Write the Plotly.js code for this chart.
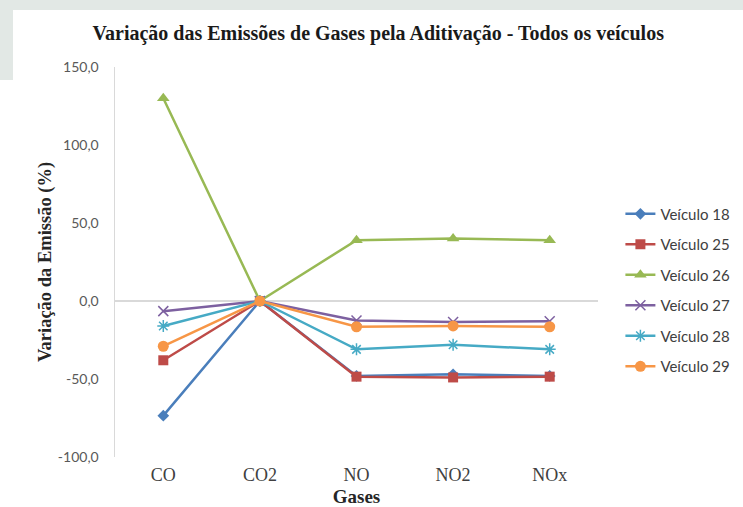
<!DOCTYPE html>
<html>
<head>
<meta charset="utf-8">
<script src="https://cdn.plot.ly/plotly-3.0.1.min.js"></script>
<style>
  html, body { margin: 0; padding: 0; width: 743px; height: 507px; overflow: hidden; background: #e2e8e5; }
  #panel { position: absolute; left: 13px; top: 10px; width: 730px; height: 497px; background: #ffffff; }
  #panel2 { position: absolute; left: 0px; top: 80px; width: 13px; height: 427px; background: #ffffff; }
  #chart { position: absolute; left: 0; top: 0; width: 743px; height: 507px; }
</style>
</head>
<body>
<div id="panel"></div>
<div id="panel2"></div>
<div id="chart"></div>
<script>
const categories = ["CO", "CO2", "NO", "NO2", "NOx"];
const seriesNames = ["Veículo 18", "Veículo 25", "Veículo 26", "Veículo 27", "Veículo 28", "Veículo 29"];
const veiculo18 = [-73.5, 0.0, -48.0, -47.0, -48.0];
const veiculo25 = [-38.0, 0.0, -48.5, -49.0, -48.5];
const veiculo26 = [130.0, 0.0, 39.0, 40.0, 39.0];
const veiculo27 = [-6.5, 0.0, -12.5, -13.5, -13.0];
const veiculo28 = [-16.0, 0.0, -31.0, -28.0, -31.0];
const veiculo29 = [-29.0, 0.0, -16.5, -16.0, -16.5];
const yTickVals = [-100, -50, 0, 50, 100, 150];
const yTickText = ["-100,0", "-50,0", "0,0", "50,0", "100,0", "150,0"];

const seriesValues = [veiculo18, veiculo25, veiculo26, veiculo27, veiculo28, veiculo29];
const colors = ["#4a7ebb", "#be4b48", "#98b954", "#7d60a0", "#46aac5", "#f79646"];
const symbols = ["diamond", "square", "triangle-up", "x-thin-open", "asterisk-open", "circle"];
const sizes = [9, 10, 11, 10, 10, 11];

const traces = seriesValues.map((vals, i) => {
  const lineSym = symbols[i].endsWith("-open");
  return {
    type: "scatter",
    mode: "lines+markers",
    name: seriesNames[i],
    legendgroup: "g" + i,
    x: categories,
    y: vals,
    line: { color: colors[i], width: 2.5 },
    marker: {
      symbol: symbols[i],
      size: sizes[i],
      color: colors[i],
      line: lineSym ? { color: colors[i], width: 1.5 } : { width: 0 }
    }
  };
});

const layout = {
  width: 743,
  height: 507,
  paper_bgcolor: "rgba(0,0,0,0)",
  plot_bgcolor: "rgba(0,0,0,0)",
  margin: { l: 115, r: 145, t: 67, b: 50, autoexpand: false },
  showlegend: true,
  title: {
    text: "<b>Variação das Emissões de Gases pela Aditivação - Todos os veículos</b>",
    font: { family: "Liberation Serif, Times New Roman, serif", size: 20, color: "#1a1a1a" },
    x: 0.509, xanchor: "center",
    y: 0.935, yanchor: "middle"
  },
  xaxis: {
    type: "category",
    range: [-0.5, 4.5],
    showgrid: false,
    zeroline: false,
    showline: false,
    ticks: "",
    ticklabelstandoff: 5,
    tickfont: { family: "Liberation Serif, Times New Roman, serif", size: 18, color: "#404040" },
    title: {
      text: "<b>Gases</b>",
      font: { family: "Liberation Serif, Times New Roman, serif", size: 19, color: "#262626" },
      standoff: 6
    },
    fixedrange: true
  },
  yaxis: {
    range: [-100, 150],
    tickvals: yTickVals,
    ticktext: yTickText,
    showgrid: false,
    zeroline: true,
    zerolinecolor: "#d9d9d9",
    zerolinewidth: 2,
    showline: true,
    linecolor: "#d9d9d9",
    linewidth: 1.5,
    ticks: "",
    ticklabelstandoff: 12,
    tickfont: { family: "Lato, Calibri, sans-serif", size: 14, color: "#595959" },
    title: {
      text: "<b>Variação da Emissão (%)</b>",
      font: { family: "Liberation Serif, Times New Roman, serif", size: 18.5, color: "#262626" },
      standoff: 1
    },
    fixedrange: true
  },
  legend: {
    xref: "container",
    x: 0.835, xanchor: "left",
    y: 0.428, yanchor: "middle",
    traceorder: "grouped",
    tracegroupgap: 8,
    font: { family: "Lato, Calibri, sans-serif", size: 15, color: "#404040" },
    bgcolor: "rgba(0,0,0,0)",
    itemwidth: 30
  }
};

Plotly.newPlot("chart", traces, layout, { displayModeBar: false, staticPlot: true });
</script>
</body>
</html>
